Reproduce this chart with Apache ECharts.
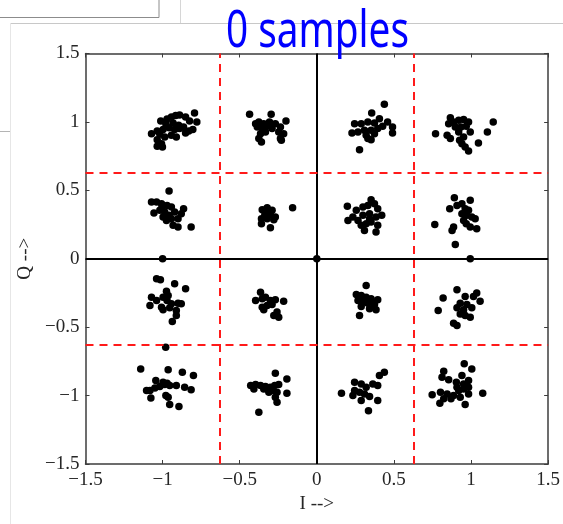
<!DOCTYPE html>
<html>
<head>
<meta charset="utf-8">
<script src="https://cdn.jsdelivr.net/npm/echarts@6/dist/echarts.min.js"></script>
<style>
html,body{margin:0;padding:0;background:#fff;}
#chart{width:563px;height:524px;}
</style>
</head>
<body>
<div id="chart"></div>
<script>
// ---- data (I, Q) ----
const titleText = '0 samples';
const xName = 'I -->';
const yName = 'Q -->';
const tickValues = [-1.5, -1, -0.5, 0, 0.5, 1, 1.5];
const axisMin = -1.5, axisMax = 1.5, axisStep = 0.5;
const thresholds = [-0.632, 0.632];
const zeroLines = [0];

const clusterM1P1 = [[-0.793,1.065],[-0.778,1.000],[-0.825,1.007],[-0.851,1.036],[-0.890,1.051],[-0.915,1.046],[-0.943,1.036],[-0.971,1.022],[-1.012,1.007],[-0.979,0.987],[-0.932,0.992],[-0.896,0.975],[-0.864,0.963],[-0.830,0.934],[-0.804,0.944],[-0.851,0.919],[-0.922,0.944],[-0.958,0.958],[-0.997,0.944],[-1.035,0.934],[-1.072,0.914],[-1.018,0.909],[-0.943,0.902],[-0.911,0.890],[-0.986,0.890],[-1.035,0.870],[-1.007,0.841],[-1.035,0.822],[-1.001,0.817],[-0.890,0.951]];
const clusterM3P1 = [[-0.436,1.056],[-0.296,1.056],[-0.376,1.000],[-0.344,0.987],[-0.307,1.000],[-0.269,0.987],[-0.236,0.963],[-0.200,1.007],[-0.386,0.963],[-0.354,0.951],[-0.322,0.968],[-0.290,0.951],[-0.247,0.926],[-0.215,0.914],[-0.365,0.914],[-0.333,0.926],[-0.376,0.878],[-0.359,0.853],[-0.236,0.878],[-0.230,0.866],[-0.397,0.987]];
const clusterM1P3 = [[-0.958,0.495],[-1.072,0.414],[-1.039,0.414],[-1.007,0.402],[-0.971,0.390],[-0.943,0.378],[-1.056,0.334],[-1.018,0.354],[-0.986,0.341],[-0.958,0.317],[-0.997,0.305],[-0.975,0.280],[-0.943,0.293],[-0.900,0.293],[-0.879,0.329],[-0.864,0.366],[-0.932,0.244],[-0.900,0.232],[-0.815,0.232],[-1.007,0.366],[-0.922,0.341]];
const clusterM3P3 = [[-0.157,0.373],[-0.354,0.358],[-0.322,0.373],[-0.290,0.354],[-0.337,0.324],[-0.301,0.324],[-0.269,0.305],[-0.359,0.293],[-0.322,0.293],[-0.279,0.285],[-0.359,0.256],[-0.301,0.227],[-0.333,0.354]];
const clusterP3P1 = [[0.438,1.129],[0.356,1.065],[0.245,0.987],[0.288,0.987],[0.331,1.000],[0.374,0.992],[0.406,1.024],[0.459,1.000],[0.491,0.963],[0.228,0.919],[0.267,0.926],[0.309,0.939],[0.352,0.939],[0.395,0.951],[0.427,0.968],[0.491,0.919],[0.320,0.902],[0.352,0.870],[0.277,0.797],[0.331,0.878],[0.374,0.914]];
const clusterP1P1 = [[1.144,1.000],[1.106,0.926],[1.048,0.846],[0.770,0.914],[0.845,0.902],[0.866,1.031],[0.855,0.987],[0.887,1.000],[0.920,1.012],[0.952,1.017],[0.984,1.000],[0.898,0.963],[0.935,0.963],[0.969,0.968],[0.995,0.926],[0.920,0.926],[0.866,0.878],[0.926,0.866],[0.952,0.890],[0.962,0.817],[0.984,0.788],[0.941,0.841]];
const clusterP3P3 = [[0.198,0.383],[0.352,0.432],[0.256,0.354],[0.299,0.378],[0.331,0.390],[0.374,0.402],[0.395,0.366],[0.421,0.317],[0.202,0.280],[0.234,0.305],[0.267,0.280],[0.299,0.317],[0.342,0.329],[0.384,0.305],[0.288,0.244],[0.320,0.256],[0.352,0.268],[0.395,0.244],[0.309,0.207],[0.384,0.195],[0.342,0.293]];
const clusterP1P3 = [[0.892,0.446],[0.995,0.427],[0.862,0.366],[0.909,0.390],[0.941,0.402],[0.962,0.366],[0.984,0.354],[0.941,0.329],[0.973,0.317],[1.005,0.305],[1.027,0.293],[0.765,0.251],[0.887,0.232],[0.877,0.207],[0.969,0.256],[0.995,0.232],[1.037,0.219],[0.898,0.105],[0.952,0.280]];
const clusterM1M3 = [[-1.039,-0.147],[-1.014,-0.154],[-0.922,-0.183],[-0.851,-0.220],[-0.975,-0.237],[-1.072,-0.281],[-1.039,-0.305],[-0.997,-0.281],[-0.964,-0.268],[-0.971,-0.305],[-0.943,-0.329],[-0.900,-0.325],[-0.879,-0.329],[-1.082,-0.342],[-1.007,-0.354],[-0.954,-0.359],[-0.911,-0.378],[-0.911,-0.415],[-0.937,-0.459],[-0.997,-0.373]];
const clusterM3M3 = [[-0.365,-0.244],[-0.397,-0.305],[-0.354,-0.293],[-0.333,-0.281],[-0.301,-0.305],[-0.269,-0.300],[-0.215,-0.310],[-0.354,-0.354],[-0.322,-0.342],[-0.290,-0.334],[-0.279,-0.415],[-0.247,-0.427],[-0.258,-0.390],[-0.344,-0.373]];
const clusterM1M1 = [[-1.142,-0.805],[-0.964,-0.812],[-0.872,-0.829],[-0.800,-0.854],[-1.044,-0.890],[-0.997,-0.902],[-0.971,-0.910],[-1.082,-0.963],[-1.050,-0.944],[-1.018,-0.934],[-0.954,-0.927],[-0.911,-0.927],[-0.857,-0.939],[-0.815,-0.958],[-1.104,-0.963],[-1.076,-1.017],[-0.979,-1.000],[-0.964,-1.012],[-0.954,-1.066],[-0.894,-1.080],[-0.986,-0.919]];
const clusterM3M1 = [[-0.269,-0.837],[-0.194,-0.878],[-0.429,-0.927],[-0.397,-0.919],[-0.365,-0.927],[-0.333,-0.934],[-0.301,-0.939],[-0.273,-0.927],[-0.247,-0.919],[-0.408,-0.951],[-0.344,-0.951],[-0.290,-0.963],[-0.258,-0.976],[-0.194,-0.983],[-0.269,-1.012],[-0.258,-1.049],[-0.376,-1.122],[-0.311,-0.976]];
const clusterP3M3 = [[0.320,-0.195],[0.256,-0.261],[0.288,-0.268],[0.320,-0.281],[0.352,-0.293],[0.395,-0.300],[0.267,-0.305],[0.299,-0.317],[0.331,-0.325],[0.374,-0.334],[0.288,-0.349],[0.342,-0.366],[0.384,-0.373],[0.277,-0.415],[0.363,-0.317]];
const clusterP1M3 = [[0.909,-0.227],[0.819,-0.286],[0.962,-0.276],[1.016,-0.276],[1.037,-0.251],[1.059,-0.310],[0.930,-0.325],[0.973,-0.334],[1.005,-0.359],[0.909,-0.359],[0.952,-0.373],[0.787,-0.378],[0.930,-0.403],[0.995,-0.427],[0.887,-0.471],[0.909,-0.488],[0.962,-0.415]];
const clusterP3M1 = [[0.438,-0.829],[0.406,-0.854],[0.245,-0.902],[0.288,-0.915],[0.320,-0.939],[0.363,-0.915],[0.395,-0.927],[0.160,-0.983],[0.234,-1.000],[0.277,-0.976],[0.309,-0.988],[0.342,-1.007],[0.395,-1.036],[0.288,-1.036],[0.335,-1.110],[0.245,-0.963]];
const clusterP1M1 = [[0.956,-0.768],[1.005,-0.805],[0.823,-0.822],[0.941,-0.854],[0.812,-0.866],[0.855,-0.885],[0.905,-0.902],[0.952,-0.915],[0.984,-0.890],[0.748,-0.993],[0.802,-0.976],[0.845,-0.988],[0.887,-1.000],[0.920,-0.963],[0.952,-0.951],[0.984,-0.939],[0.823,-1.024],[0.870,-1.024],[0.930,-1.012],[0.984,-0.988],[1.076,-0.983],[0.798,-1.056],[0.962,-1.066],[0.909,-0.939]];
const strayPoints = [[0,0],[-1.0,0.0],[0.995,0.0],[-0.98,-0.647]];

const allPoints = [].concat(
  clusterM1P1, clusterM3P1, clusterP3P1, clusterP1P1,
  clusterM1P3, clusterM3P3, clusterP3P3, clusterP1P3,
  clusterM1M3, clusterM3M3, clusterP3M3, clusterP1M3,
  clusterM1M1, clusterM3M1, clusterP3M1, clusterP1M1,
  strayPoints
);

// ---- styles ----
const serif = '"Liberation Serif", "Times New Roman", serif';
const boxColor = '#3c3c3c';
const fmt = v => (v < 0 ? '\u2212' : '') + String(Math.abs(v));

function axisBase(extra) {
  return Object.assign({
    type: 'value', min: axisMin, max: axisMax, interval: axisStep,
    splitLine: { show: false },
    axisLine: { show: true, onZero: false, lineStyle: { color: boxColor, width: 1.5 } },
    axisTick: { show: true, inside: true, length: 4, lineStyle: { color: boxColor, width: 1 } },
  }, extra);
}

const labelStyle = { color: '#262626', fontFamily: serif, fontSize: 19, formatter: fmt };
const nameStyle = { color: '#262626', fontFamily: serif, fontSize: 19 };

const markData = [];
zeroLines.forEach(v => {
  markData.push({ xAxis: v, lineStyle: { color: '#000', width: 2, type: 'solid' } });
  markData.push({ yAxis: v, lineStyle: { color: '#000', width: 2, type: 'solid' } });
});
thresholds.forEach(v => {
  markData.push({ xAxis: v, lineStyle: { color: '#ff1a1a', width: 2, type: [8, 6] } });
  markData.push({ yAxis: v, lineStyle: { color: '#ff1a1a', width: 2, type: [8, 6] } });
});

const chart = echarts.init(document.getElementById('chart'), null, { renderer: 'canvas' });
chart.setOption({
  animation: false,
  backgroundColor: '#fff',
  grid: { left: 85.5, right: 11.5, top: 53.5, bottom: 60, containLabel: false },
  xAxis: [
    axisBase({ position: 'bottom', name: xName, nameLocation: 'middle', nameGap: 26, nameTextStyle: nameStyle,
      axisLabel: Object.assign({ margin: 7 }, labelStyle) }),
    axisBase({ position: 'top', axisLabel: { show: false } })
  ],
  yAxis: [
    axisBase({ position: 'left', name: yName, nameLocation: 'middle', nameGap: 47, nameTextStyle: nameStyle,
      axisLabel: Object.assign({ margin: 6 }, labelStyle) }),
    axisBase({ position: 'right', axisLabel: { show: false } })
  ],
  series: [{
    type: 'scatter',
    xAxisIndex: 0, yAxisIndex: 0,
    data: allPoints,
    symbol: 'circle',
    symbolSize: 7.5,
    itemStyle: { color: '#000', opacity: 1 },
    z: 3,
    markLine: {
      silent: true, symbol: 'none', label: { show: false },
      animation: false,
      data: markData
    }
  }],
  graphic: [
    // surrounding window artefacts of the screenshot
    { type: 'rect', shape: { x: -2, y: -2, width: 161, height: 19.5 }, style: { fill: 'none', stroke: '#8c8c8c', lineWidth: 1 }, z: 0 },
    { type: 'line', shape: { x1: 180.5, y1: 0, x2: 180.5, y2: 23 }, style: { stroke: '#d6d6d6', lineWidth: 1 }, z: 0 },
    { type: 'line', shape: { x1: 10.5, y1: 23.5, x2: 563, y2: 23.5 }, style: { stroke: '#c8c8c8', lineWidth: 1 }, z: 0 },
    { type: 'line', shape: { x1: 10.5, y1: 23.5, x2: 10.5, y2: 524 }, style: { stroke: '#e6e6e6', lineWidth: 1 }, z: 0 },
    { type: 'line', shape: { x1: 0, y1: 131.5, x2: 10, y2: 131.5 }, style: { stroke: '#b4b4b4', lineWidth: 1 }, z: 0 },
    // title
    { type: 'text', x: 317.5, y: 32, scaleX: 0.76, z: 10,
      style: { text: titleText, fill: '#0000ff', font: '51px "Noto Sans"', textAlign: 'center', textVerticalAlign: 'middle' } }
  ]
});
</script>
</body>
</html>
